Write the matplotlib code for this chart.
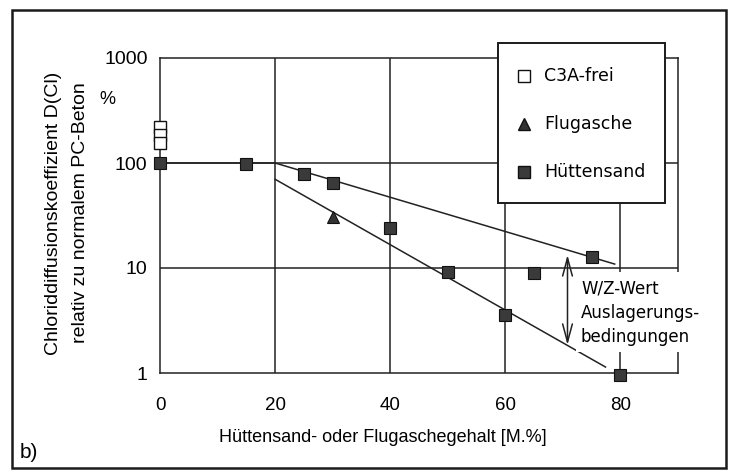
import numpy as np
import matplotlib
matplotlib.use('Agg')
import matplotlib.pyplot as plt
from matplotlib.patches import Rectangle
from matplotlib.lines import Line2D

plt.rcParams['font.family'] = ['Liberation Sans', 'DejaVu Sans']

# Messwerte
c3a_x = [0, 0, 0]
c3a_y = [218, 185, 155]

flugasche_x = [30]
flugasche_y = [30.6]

huetten_x = [0, 15, 25, 30, 40, 50, 60, 65, 75, 80]
huetten_y = [100, 97, 78, 65, 24, 9.1, 3.6, 8.9, 12.7, 0.95]

# Ausgleichsgeraden (obere/untere Grenze)
upper_x = [0, 20, 79]
upper_y = [100, 100, 10.9]
lower_x = [20, 77.4]
lower_y = [70, 1.14]

# Pfeil W/Z-Wert
arrow_x = 70.8
arrow_y = (13.3, 1.85)

W, H = 729, 472
fig = plt.figure(figsize=(W / 100, H / 100), dpi=100)
fig.patch.set_facecolor('white')

# Rahmen um die ganze Abbildung
fig.patches.append(Rectangle((12 / W, 1 - 468 / H), 714 / W, 458 / H,
                             transform=fig.transFigure, fill=False,
                             edgecolor='#1a1a1a', lw=1.8))

ax = fig.add_axes([160 / W, 1 - 373 / H, 518 / W, 315 / H])
ax.set_yscale('log')
ax.set_xlim(0, 90)
ax.set_ylim(1, 1000)
ax.set_xticks([0, 20, 40, 60, 80])
ax.set_yticks([1, 10, 100, 1000], labels=['1', '10', '100', '1000'])
ax.yaxis.set_minor_locator(matplotlib.ticker.NullLocator())
ax.tick_params(axis='y', length=0, pad=9, labelsize=14)
ax.tick_params(axis='x', length=0, pad=17, labelsize=13.5)
for s in ax.spines.values():
    s.set_color('#222222')
    s.set_linewidth(1.1)

for gx in [20, 40, 60, 80]:
    ax.axvline(gx, color='#222222', lw=1.1, zorder=1)
for gy in [10, 100]:
    ax.axhline(gy, color='#222222', lw=1.1, zorder=1)

ax.plot(upper_x, upper_y, color='#222222', lw=1.1, zorder=2)
ax.plot(lower_x, lower_y, color='#222222', lw=1.1, zorder=2)

ax.plot(huetten_x, huetten_y, 's', ms=8.5, mfc='#3a3a3a', mec='#111111',
        mew=0.8, ls='none', zorder=4, clip_on=False)
ax.plot(flugasche_x, flugasche_y, '^', ms=8.5, mfc='#333333', mec='#111111',
        mew=0.8, ls='none', zorder=4, clip_on=False)
ax.plot(c3a_x, c3a_y, 's', ms=9, mfc='white', mec='#111111',
        mew=1.0, ls='none', zorder=4, clip_on=False)

ax.annotate('', xy=(arrow_x, arrow_y[1]), xytext=(arrow_x, arrow_y[0]),
            arrowprops=dict(arrowstyle='<->,head_length=1.3,head_width=0.35',
                            color='#222222', lw=1.1, shrinkA=0, shrinkB=0),
            zorder=5)

# Beschriftung des Pfeils auf weißem Feld
fig.patches.append(Rectangle((576 / W, 1 - 352 / H), 134 / W, 80 / H,
                             transform=fig.transFigure, facecolor='white',
                             edgecolor='none', zorder=3))
fig.text(581 / W, 1 - 313 / H, 'W/Z-Wert\nAuslagerungs-\nbedingungen',
         ha='left', va='center', fontsize=12, linespacing=1.45, zorder=6,
         family=['DejaVu Sans'])

fig.text(383 / W, 1 - 437 / H, 'Hüttensand- oder Flugaschegehalt [M.%]',
         ha='center', va='center', fontsize=13)
fig.text(67 / W, 1 - 213 / H,
         'Chloriddiffusionskoeffizient D(Cl)\nrelativ zu normalem PC-Beton',
         rotation=90, ha='center', va='center', fontsize=14, linespacing=1.7)
fig.text(107 / W, 1 - 99 / H, '%', ha='center', va='center', fontsize=13)
fig.text(20 / W, 1 - 452 / H, 'b)', ha='left', va='center', fontsize=15)

# Legende als eigenes Kästchen
fig.patches.append(Rectangle((498 / W, 1 - 203 / H), 167 / W, 160 / H,
                             transform=fig.transFigure, facecolor='white',
                             edgecolor='#1a1a1a', lw=1.4, zorder=3))
entries = [('s', 'white', 'C3A-frei', 76),
           ('^', '#333333', 'Flugasche', 124),
           ('s', '#3a3a3a', 'Hüttensand', 172)]
for mk, fc, lab, py in entries:
    fig.lines.append(Line2D([524 / W], [1 - py / H], marker=mk, ms=8, mfc=fc,
                            mec='#111111', mew=1.0, ls='none',
                            transform=fig.transFigure, zorder=6))
    fig.text(544 / W, 1 - py / H, lab, ha='left', va='center', fontsize=12.5,
             zorder=6, family=['DejaVu Sans'])

fig.savefig('out.png', dpi=100)
